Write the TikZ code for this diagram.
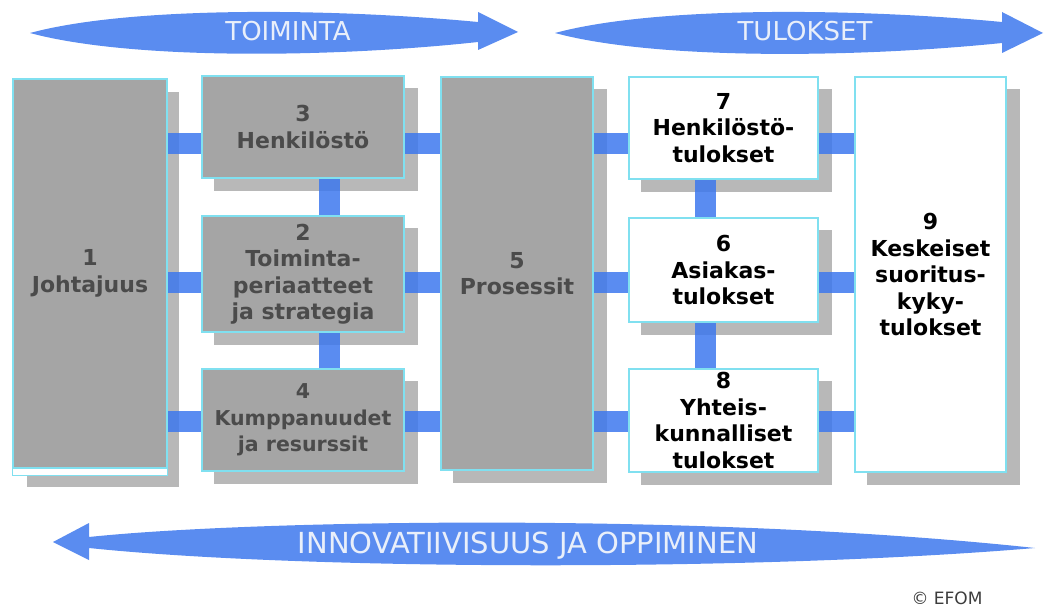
\documentclass[tikz,border=0pt]{standalone}
\usepackage{fontspec}
\setmainfont{DejaVu Sans}
\definecolor{arrowblue}{RGB}{90,140,240}
\definecolor{connblue}{RGB}{61,120,238}
\definecolor{boxgray}{RGB}{165,165,165}
\definecolor{shadowgray}{RGB}{184,184,184}
\definecolor{edgecyan}{RGB}{128,224,240}
\definecolor{graytext}{RGB}{75,75,75}
\definecolor{arrowtext}{RGB}{233,239,250}
\definecolor{efomtext}{RGB}{60,60,60}
\pgfdeclarelayer{shadowlayer}
\pgfdeclarelayer{connlayer}
\pgfsetlayers{shadowlayer,connlayer,main}
\tikzset{
  box/.style={draw=edgecyan, line width=1.2pt, inner sep=0pt, align=center,
    font=\bfseries\fontsize{22}{26.5}\selectfont},
  graybox/.style={box, fill=boxgray, text=graytext},
  whitebox/.style={box, fill=white, text=black},
  conn/.style={line width=21pt, draw=connblue, opacity=0.85},
  shadowfill/.style={fill=shadowgray},
  bigarrow/.style={fill=arrowblue},
  arrowlabel/.style={text=arrowtext, inner sep=0pt},
}
\begin{document}
\begin{tikzpicture}[x=1pt,y=-1pt]
\useasboundingbox (0,0) rectangle (1052,610);

% big arrows
\fill[bigarrow] (30,33) .. controls (130,6) and (330,8) .. (478,22)
  -- (478,12) -- (518,32) -- (478,50) -- (478,42)
  .. controls (330,58) and (130,60) .. (30,33) -- cycle;
\node[arrowlabel, font=\fontsize{26}{30}\selectfont] (toiminta) at (288,31) {TOIMINTA};

\fill[bigarrow] (555,33) .. controls (655,6) and (855,8) .. (1002,22)
  -- (1002,12) -- (1043,33) -- (1002,53) -- (1002,43)
  .. controls (855,58) and (655,60) .. (555,33) -- cycle;
\node[arrowlabel, font=\fontsize{26}{30}\selectfont] (tulokset) at (805,31) {TULOKSET};

\fill[bigarrow] (53,542) -- (89,523) -- (89,537)
  .. controls (250,520) and (700,512) .. (1035,548)
  .. controls (750,572) and (300,570) .. (89,548)
  -- (89,560) -- cycle;
\node[arrowlabel, font=\fontsize{29}{33}\selectfont] (innov) at (528,546) {INNOVATIIVISUUS JA OPPIMINEN};

% boxes
\node[graybox, minimum width=154pt, minimum height=389pt] (b1) at (90,273.5) {1\\Johtajuus};
\node[graybox, minimum width=202pt, minimum height=102pt] (b3) at (303,127) {3\\Henkilöstö};
\node[graybox, minimum width=202pt, minimum height=116pt] (b2) at (303,274) {2\\Toiminta-\\periaatteet\\ja strategia};
\node[graybox, minimum width=202pt, minimum height=102pt, font=\bfseries\fontsize{20.5}{26.5}\selectfont] (b4) at (303,420) {4\\Kumppanuudet\\ja resurssit};
\node[graybox, minimum width=152pt, minimum height=393pt] (b5) at (517,273.5) {5\\Prosessit};
\node[whitebox, minimum width=189pt, minimum height=102pt] (b7) at (723.5,128) {7\\Henkilöstö-\\tulokset};
\node[whitebox, minimum width=189pt, minimum height=104pt] (b6) at (723.5,270) {6\\Asiakas-\\tulokset};
\node[whitebox, minimum width=189pt, minimum height=103pt] (b8) at (723.5,420.5) {8\\Yhteis-\\kunnalliset\\tulokset};
\node[whitebox, minimum width=151pt, minimum height=395pt] (b9) at (930.5,274.5) {9\\Keskeiset\\suoritus-\\kyky-\\tulokset};
\draw[draw=edgecyan, line width=1.2pt, fill=white] (b1.south west) rectangle ([yshift=-7pt]b1.south east);

\node[text=efomtext, inner sep=0pt, font=\fontsize{17}{19}\selectfont] (efom) at (947,598) {© EFOM};

% shadows
\begin{pgfonlayer}{shadowlayer}
  \fill[shadowfill] ([shift={(15,14)}]b1.north west) rectangle ([shift={(11,18)}]b1.south east);
  \foreach \b in {b2,b3,b4,b5,b6,b7,b8,b9}{
    \fill[shadowfill] ([shift={(13,13)}]\b.north west) rectangle ([shift={(13,12)}]\b.south east);
  }
\end{pgfonlayer}

% connectors
\coordinate (r1) at (0,143);
\coordinate (r2) at (0,282);
\coordinate (r3) at (0,421);
\coordinate (c1) at (329,0);
\coordinate (c2) at (705,0);
\begin{pgfonlayer}{connlayer}
  \draw[conn] (b1.east |- r1) -- (b3.west |- r1);
  \draw[conn] (b1.east |- r2) -- (b2.west |- r2);
  \draw[conn] (b1.east |- r3) -- (b4.west |- r3);
  \draw[conn] (b3.east |- r1) -- (b5.west |- r1);
  \draw[conn] (b2.east |- r2) -- (b5.west |- r2);
  \draw[conn] (b4.east |- r3) -- (b5.west |- r3);
  \draw[conn] (b5.east |- r1) -- (b7.west |- r1);
  \draw[conn] (b5.east |- r2) -- (b6.west |- r2);
  \draw[conn] (b5.east |- r3) -- (b8.west |- r3);
  \draw[conn] (b7.east |- r1) -- (b9.west |- r1);
  \draw[conn] (b6.east |- r2) -- (b9.west |- r2);
  \draw[conn] (b8.east |- r3) -- (b9.west |- r3);
  \draw[conn] (b3.south -| c1) -- (b2.north -| c1);
  \draw[conn] (b2.south -| c1) -- (b4.north -| c1);
  \draw[conn] (b7.south -| c2) -- (b6.north -| c2);
  \draw[conn] (b6.south -| c2) -- (b8.north -| c2);
\end{pgfonlayer}
\end{tikzpicture}
\end{document}
